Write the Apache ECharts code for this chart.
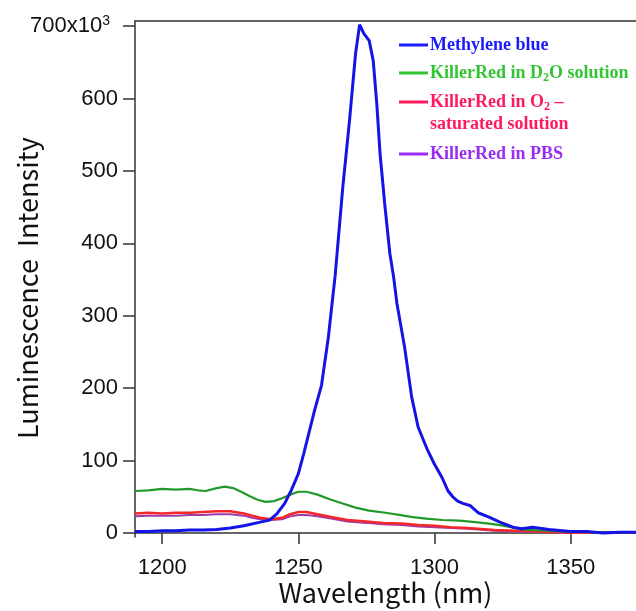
<!DOCTYPE html>
<html>
<head>
<meta charset="utf-8">
<script src="https://cdn.jsdelivr.net/npm/echarts@6/dist/echarts.min.js"></script>
<style>
  html, body { margin: 0; padding: 0; background: #fff; }
  #chart { width: 636px; height: 611px; }
</style>
</head>
<body>
<div id="chart"></div>
<script>
// Methylene blue
const mbWave = [1190, 1195, 1200, 1205, 1210, 1215, 1220, 1225, 1230, 1236, 1239.5, 1242, 1245, 1247.5, 1250, 1252, 1254, 1256, 1258.5, 1261, 1263.5, 1266.3, 1268.8, 1271, 1272.5, 1274, 1276, 1277.5, 1278.8, 1280, 1281.7, 1283.6, 1285, 1286.2, 1289, 1291.6, 1294, 1297.5, 1300, 1302.7, 1305, 1306.7, 1308.5, 1310.4, 1313, 1316, 1320, 1324, 1328.8, 1332, 1334, 1336, 1342, 1350, 1356, 1362, 1368, 1374]
const mbVal = [2, 2, 3, 3, 4, 4, 5, 7, 10, 15, 18, 26, 41, 60, 82, 110, 140, 170, 204, 270, 355, 477, 570, 662, 702, 690, 680, 652, 593, 524, 455, 386, 353, 317, 257, 188, 146, 114, 95, 77, 58, 50, 44, 41, 38, 28, 22, 15, 8, 6, 7, 8, 5, 2, 2, 0, 1, 1]

// KillerRed in D2O
const d2oWave = [1190, 1195, 1200, 1205, 1210, 1213, 1216, 1220, 1223, 1226, 1229, 1232, 1235, 1238, 1241, 1244, 1247, 1250, 1253, 1257, 1262, 1266, 1271, 1276, 1282, 1287, 1292, 1297, 1303, 1309, 1315, 1320, 1324, 1328, 1332, 1337, 1343, 1350, 1360, 1374]
const d2oVal = [58, 59, 61, 60, 61, 59, 58, 62, 64, 62, 57, 51, 46, 43, 44, 48, 53, 57, 57, 53, 46, 41, 35, 31, 28, 25, 22, 20, 18, 17, 15, 13, 11, 8, 5, 4, 3, 2, 1, 1]

// KillerRed in O2-saturated solution / in PBS
const krWave = [1190, 1195, 1200, 1205, 1210, 1215, 1220, 1225, 1230, 1233, 1236, 1240, 1244, 1247, 1250, 1253, 1257, 1262, 1268, 1275, 1281, 1288, 1294, 1300, 1306, 1312, 1316, 1322, 1330, 1338, 1345, 1355, 1374]
const o2Val = [27, 28, 27, 28, 28, 29, 30, 30, 27, 24, 21, 19, 21, 26, 29, 29, 26, 22, 18, 16, 14, 13, 11, 10, 8, 7, 6, 4, 3, 2, 1, 0.5, 0.3]
const pbsVal = [23, 24, 24, 24, 25, 25, 26, 26, 24, 21, 19, 18, 19, 23, 25, 25, 23, 20, 16, 14, 12, 11, 9, 8, 7, 6, 5, 3, 2, 1.5, 1, 0.5, 0.3]

const xTicks = [1200, 1250, 1300, 1350]
const yTicks = [0, 100, 200, 300, 400, 500, 600, 700]

const zip = (xs, ys) => xs.map((x, i) => [x, ys[i]])

const chart = echarts.init(document.getElementById('chart'))

const axisFont = { fontFamily: 'Liberation Sans', fontSize: 22, color: '#111' }
const lineSeries = (name, data, color, width, z) => ({
    name, type: 'line', data, z,
    showSymbol: false, symbol: 'none', smooth: false,
    lineStyle: { color, width },
    xAxisIndex: 0, yAxisIndex: 0,
})

// legend drawn by hand (subscripts, two-line entry)
const legendRow = (y, color, rich, text) => [
    { type: 'line', shape: { x1: 399, y1: y, x2: 428, y2: y }, style: { stroke: color, lineWidth: 3 } },
    {
        type: 'text', x: 430, y: y - 11,
        style: { text, fill: color, rich, font: 'bold 18px "Liberation Serif"', lineHeight: 22 },
    },
]

function richFor(color) {
    return {
        b: { fontFamily: 'Liberation Serif', fontWeight: 'bold', fontSize: 18, lineHeight: 22, color },
        s: { fontFamily: 'Liberation Serif', fontWeight: 'bold', fontSize: 12, lineHeight: 12, verticalAlign: 'bottom', color },
    }
}

chart.setOption({
    animation: false,
    grid: { left: 135, top: 21, right: 0, bottom: 74, containLabel: false, outerBoundsMode: 'none' },
    xAxis: [{
        type: 'value', min: 1190, max: 1374,
        name: 'Wavelength (nm)', nameLocation: 'middle', nameGap: 42, nameMoveOverlap: false,
        nameTextStyle: { fontFamily: 'Noto Sans CJK JP', fontSize: 27, color: '#111' },
        axisLine: { show: true, lineStyle: { color: '#333', width: 1.5 } },
        axisTick: { show: true, inside: false, length: 11, customValues: xTicks, lineStyle: { color: '#333', width: 1.5 } },
        axisLabel: Object.assign({ margin: 20, customValues: xTicks, formatter: v => String(v) }, axisFont),
        splitLine: { show: false },
    }, {
        // top frame line
        type: 'value', min: 1190, max: 1374, position: 'top',
        axisLine: { show: true, lineStyle: { color: '#333', width: 1.5 } },
        axisTick: { show: false }, axisLabel: { show: false }, splitLine: { show: false },
    }],
    yAxis: {
        type: 'value', min: -5.5, max: 707,
        name: 'Luminescence  Intensity   ', nameLocation: 'middle', nameGap: 94, nameRotate: 90, nameMoveOverlap: false,
        nameTextStyle: { fontFamily: 'Noto Sans CJK JP', fontSize: 27, color: '#111' },
        axisLine: { show: true, lineStyle: { color: '#333', width: 1.5 } },
        axisTick: { show: true, inside: false, length: 12, customValues: yTicks, lineStyle: { color: '#333', width: 1.5 } },
        axisLabel: Object.assign({
            margin: 17, customValues: yTicks,
            formatter: v => v === 700 ? '{a|700x10}{s|3}' : String(v),
            rich: {
                a: { fontFamily: 'Liberation Sans', fontSize: 22, lineHeight: 24, color: '#111' },
                s: { fontFamily: 'Liberation Sans', fontSize: 14, lineHeight: 14, verticalAlign: 'top', color: '#111', padding: [0, 8, 0, 0] },
            },
        }, axisFont),
        splitLine: { show: false },
    },
    series: [
        lineSeries('KillerRed in PBS', zip(krWave, pbsVal), '#a03aa8', 2, 2),
        lineSeries('KillerRed in O2 saturated solution', zip(krWave, o2Val), '#f52828', 2.5, 3),
        lineSeries('KillerRed in D2O solution', zip(d2oWave, d2oVal), '#22992a', 2.2, 4),
        lineSeries('Methylene blue', zip(mbWave, mbVal), '#1414e6', 3, 5),
    ],
    graphic: [].concat(
        legendRow(45, '#1a1aff', richFor('#1a1aff'), '{b|Methylene blue}'),
        legendRow(73, '#33c433', richFor('#33c433'), '{b|KillerRed in D}{s|2}{b|O solution}'),
        legendRow(102, '#ff1a60', richFor('#ff1a60'), '{b|KillerRed in O}{s|2}{b| –}\n{b|saturated solution}'),
        legendRow(154, '#9a2df0', richFor('#9a2df0'), '{b|KillerRed in PBS}'),
    ),
})
</script>
</body>
</html>
